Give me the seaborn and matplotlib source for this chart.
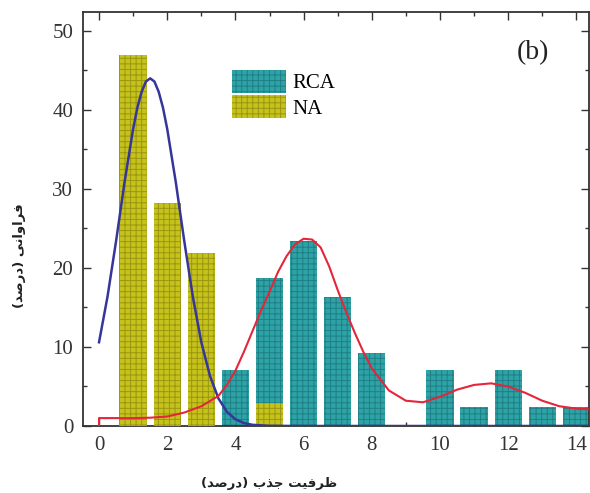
import matplotlib
matplotlib.use("Agg")
import matplotlib.pyplot as plt
import seaborn as sns
import pandas as pd
from matplotlib.ticker import MultipleLocator

# ---------------- data ----------------
na_x = [1, 2, 3, 5]
na_y = [47.0, 28.2, 21.9, 2.9]

rca_x = [4, 5, 6, 7, 8, 9, 10, 11, 12, 13, 14]
rca_y = [7.1, 18.7, 23.4, 16.3, 9.2, 0.0, 7.1, 2.4, 7.1, 2.4, 2.4]

# fitted curves
blue_x = [0, 0.25, 0.5, 0.75, 1.0, 1.125, 1.25, 1.375, 1.5, 1.625, 1.75, 1.875,
          2.0, 2.25, 2.5, 2.75, 3.0, 3.25, 3.5, 3.75, 4.0, 4.25, 4.5, 5.0, 6.0,
          8.0, 10.0, 12.0, 14.4]
blue_y = [10.6, 16.4, 23.4, 30.9, 37.6, 40.3, 42.3, 43.6, 44.0, 43.6, 42.3, 40.3,
          37.6, 30.9, 23.4, 16.4, 10.6, 6.4, 3.5, 1.8, 0.85, 0.37, 0.15, 0.02, 0.0,
          0.0, 0.0, 0.0, 0.0]

red_x = [0, 0, 0.5, 1.0, 1.5, 2.0, 2.5, 3.0, 3.5, 3.75, 4.0, 4.25, 4.5, 4.75, 5.0,
         5.25, 5.5, 5.75, 6.0, 6.25, 6.5, 6.75, 7.0, 7.25, 7.5, 7.75, 8.0, 8.5,
         9.0, 9.5, 10.0, 10.5, 11.0, 11.5, 12.0, 12.5, 13.0, 13.5, 14.0, 14.4]
red_y = [0.0, 1.0, 1.0, 1.0, 1.05, 1.2, 1.7, 2.5, 3.8, 5.2, 7.0, 9.4, 12.0, 14.6,
         17.0, 19.5, 21.5, 23.0, 23.7, 23.6, 22.6, 20.2, 17.2, 14.4, 11.8, 9.4,
         7.3, 4.5, 3.2, 3.0, 3.7, 4.6, 5.2, 5.4, 5.0, 4.2, 3.2, 2.5, 2.2, 2.1]

series_labels = ["RCA", "NA"]
x_ticks = [0, 2, 4, 6, 8, 10, 12, 14]
y_ticks = [0, 10, 20, 30, 40, 50]
panel_label = "(b)"


# ---- Persian text (manually shaped with Arabic presentation forms) ----
def visual(s):
    out = s[::-1]
    return out.translate(str.maketrans({"(": ")", ")": "("}))

w_faravani = "\uFED3\uFEAE\uFE8D\uFEED\uFE8D\uFEE7\uFEF0"   # فراوانی
w_darsad = "\uFEA9\uFEAD\uFEBB\uFEAA"                       # درصد
w_zarfiat = "\uFEC7\uFEAE\uFED3\uFEF4\uFE96"                # ظرفیت
w_jazb = "\uFE9F\uFEAC\uFE8F"                               # جذب
y_label = visual(w_faravani + " (" + w_darsad + ")")
x_label = visual(w_zarfiat + " " + w_jazb + " (" + w_darsad + ")")

# ---------------- figure ----------------
plt.rcParams["hatch.linewidth"] = 0.7
fig = plt.figure(figsize=(5.9, 4.93), dpi=100)
ax = fig.add_axes([83 / 590, 1 - 426 / 493, (589 - 83) / 590, (426 - 12) / 493])

rca_df = pd.DataFrame({"x": rca_x, "y": rca_y})
na_df = pd.DataFrame({"x": na_x, "y": na_y})

sns.barplot(data=rca_df, x="x", y="y", native_scale=True, color="#2ea3a6",
            saturation=1, errorbar=None, width=0.8, ax=ax, label=series_labels[0],
            linewidth=0, zorder=2)
n_rca = len(ax.patches)
sns.barplot(data=na_df, x="x", y="y", native_scale=True, color="#c6c21c",
            saturation=1, errorbar=None, width=0.8, ax=ax, label=series_labels[1],
            linewidth=0, zorder=3)

for i, p in enumerate(ax.patches):
    if i < n_rca:
        p.set_edgecolor("#1f7f86")
    else:
        p.set_edgecolor("#9a9610")
    p.set_hatch("+++")
    p.set_linewidth(0)

sns.lineplot(x=blue_x, y=blue_y, sort=False, estimator=None, color="#36369a",
             linewidth=1.8, ax=ax, zorder=5)
sns.lineplot(x=red_x, y=red_y, sort=False, estimator=None, color="#e4263a",
             linewidth=1.5, ax=ax, zorder=6)

ax.set_xlim(-0.47, 14.37)
ax.set_ylim(0, 52.4)
ax.set_xticks(x_ticks)
ax.set_yticks(y_ticks)
ax.xaxis.set_minor_locator(MultipleLocator(1))
ax.yaxis.set_minor_locator(MultipleLocator(5))
ax.tick_params(which="both", direction="in", top=True, right=True,
               colors="#333333", width=1.0)
ax.tick_params(which="major", length=6, labelsize=15, pad=7)
ax.tick_params(which="minor", length=3)
for lab in ax.get_xticklabels() + ax.get_yticklabels():
    lab.set_family("Liberation Serif")
    lab.set_color("#333333")
for sp in ax.spines.values():
    sp.set_color("#333333")
    sp.set_linewidth(1.3)
ax.set_xlabel("")
ax.set_ylabel("")

handles, labels = ax.get_legend_handles_labels()
leg = ax.legend(handles[:2], labels[:2], loc="upper left",
                bbox_to_anchor=(0.294, 0.86), frameon=False, borderpad=0,
                borderaxespad=0, handlelength=2.6, handleheight=1.3,
                labelspacing=0.1, handletextpad=0.3,
                prop={"family": "Liberation Serif", "size": 15})

ax.text(0.889, 0.901, panel_label, transform=ax.transAxes, ha="center",
        va="center", fontsize=20, family="Liberation Serif", color="#222222")

fig.text(20 / 590, 1 - 256 / 493, y_label, rotation=90, ha="center", va="center",
         fontsize=9.5, fontweight="bold", family="DejaVu Sans", color="#222222")
fig.text(269 / 590, 1 - 484 / 493, x_label, ha="center", va="center",
         fontsize=9.5, fontweight="bold", family="DejaVu Sans", color="#222222")

fig.savefig("out.png", dpi=100)
